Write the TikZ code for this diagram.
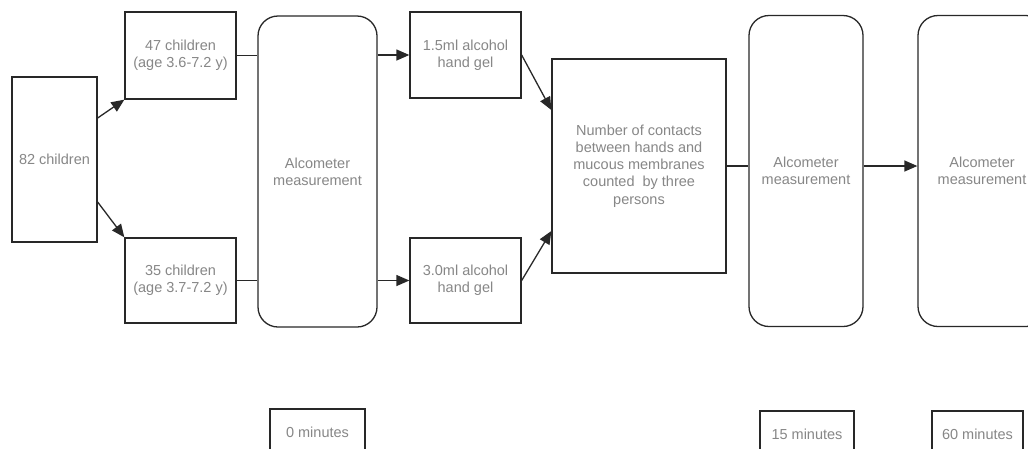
\documentclass[tikz,border=0pt]{standalone}
\usepackage{fontspec}
\setmainfont{Liberation Sans}
\usetikzlibrary{arrows.meta,calc}
\definecolor{txtgray}{RGB}{135,135,135}
\definecolor{linegray}{RGB}{40,40,40}
\tikzset{
  box/.style={draw=linegray, line width=1.3pt, rectangle, align=center, text=txtgray,
    font=\fontsize{14.5}{17.2}\selectfont, inner sep=0pt},
  alcbox/.style={box, rounded corners=20pt, minimum height=311pt},
  minbox/.style={box, minimum height=46pt},
  conn/.style={draw=linegray, line width=1.3pt},
  arr/.style={conn, -{Triangle[length=13pt,width=11pt]}}
}
\begin{document}
\begin{tikzpicture}[x=1pt,y=-1pt]
\useasboundingbox (0,0) rectangle (1028,448);
\clip (0,0) rectangle (1028,448);
\fill[white] (0,0) rectangle (1028,448);

\node[box, minimum width=85pt, minimum height=165pt] (c82) at (54.5,159.5) {82 children};
\node[box, minimum width=111pt, minimum height=87pt] (c47) at (180.5,55.5) {47 children\\(age 3.6-7.2 y)};
\node[box, minimum width=111pt, minimum height=85pt] (c35) at (180.5,280.5) {35 children\\(age 3.7-7.2 y)};
\node[alcbox, minimum width=119pt] (alc1) at (317.5,171.5) {Alcometer\\measurement};
\node[box, minimum width=111pt, minimum height=86pt] (g15) at (465.5,55) {1.5ml alcohol\\hand gel};
\node[box, minimum width=111pt, minimum height=85pt] (g30) at (465.5,280.5) {3.0ml alcohol\\hand gel};
\node[box, minimum width=174pt, minimum height=214pt] (num) at (639,166) {Number of contacts\\between hands and\\mucous membranes\\counted\ \ by three\\persons};
\node[alcbox, minimum width=114pt] (alc2) at (806,171) {Alcometer\\measurement};
\node[alcbox, minimum width=128pt] (alc3) at (982,171) {Alcometer\\measurement};

\node[minbox, minimum width=95pt] (m0) at (317.5,432) {0 minutes};
\node[minbox, minimum width=94pt] (m15) at (807,434) {15 minutes};
\node[minbox, minimum width=91pt] (m60) at (977.5,434) {60 minutes};

\draw[arr] ([yshift=41.5pt]c82.east) -- (c47.south west);
\draw[arr] ([yshift=-42.5pt]c82.east) -- (c35.north west);
\draw[conn] (c47.east) -- (c47.east -| alc1.west);
\draw[conn] (c35.east) -- (c35.east -| alc1.west);
\draw[arr] (g15.west -| alc1.east) -- (g15.west);
\draw[arr] (g30.west -| alc1.east) -- (g30.west);
\draw[arr] (g15.east) -- ([yshift=56pt]num.west);
\draw[arr] (g30.east) -- ([yshift=-65pt]num.west);
\draw[conn] (num.east) -- (num.east -| alc2.west);
\draw[arr] (alc2.east |- num.east) -- (alc3.west |- num.east);
\end{tikzpicture}
\end{document}
